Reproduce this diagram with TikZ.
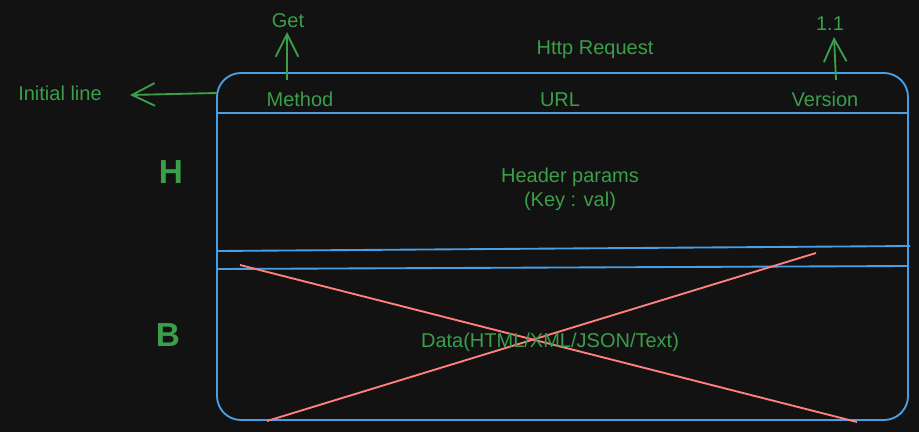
\documentclass[tikz,border=0pt]{standalone}
\usepackage{fontspec}
\setmainfont{Liberation Sans}
\usetikzlibrary{arrows.meta}
\definecolor{bg}{HTML}{121212}
\definecolor{txtg}{HTML}{3A9E4A}
\definecolor{boxb}{HTML}{4A9FE3}
\definecolor{crossr}{HTML}{FF8080}
\begin{document}
\begin{tikzpicture}[x=0.75pt,y=-0.75pt,
  lbl/.style={text=txtg,font=\fontsize{15}{18}\selectfont,inner sep=1pt},
  big/.style={text=txtg,font=\fontsize{25}{28}\selectfont\bfseries},
  arr/.style={draw=txtg,line width=1.4pt,-{Straight Barb[length=17pt,width=17pt,line width=1.4pt]}},
  bl/.style={draw=boxb,line width=1.4pt},
  rl/.style={draw=crossr,line width=1.4pt}]
\useasboundingbox[fill=bg] (0,0) rectangle (919,432);
% box
\draw[bl,rounded corners=18pt] (217,73) rectangle (908,420);
\coordinate (l1a) at (217,113); \coordinate (l1b) at (908,113);
\coordinate (l2a) at (217,251); \coordinate (l2b) at (910,246);
\coordinate (l3a) at (217,269); \coordinate (l3b) at (908,266);
\draw[bl] (l1a) -- (l1b);
\draw[bl] (l2a) -- (l2b);
\draw[bl] (l3a) -- (l3b);
% cross
\coordinate (c1a) at (240,265); \coordinate (c1b) at (857,422);
\coordinate (c2a) at (816,253); \coordinate (c2b) at (267,421);
\draw[rl] (c1a) -- (c1b);
\draw[rl] (c2a) -- (c2b);
% texts
\node[lbl] (http) at (595,50) {Http Request};
\node[lbl] (init) at (60,93) {Initial line};
\node[lbl] (meth) at (300,99) {Method};
\node[lbl] (url) at (560,100) {URL};
\node[lbl] (ver) at (825,99) {Version};
\node[lbl] (get) at (288,21) {Get};
\node[lbl] (v11) at (830,24) {1.1};
\node[lbl,align=center] (hdr) at (570,189) {Header params\\(Key : val)};
\node[big] (H) at (171,172) {H};
\node[big] (B) at (168,335) {B};
\node[lbl] (data) at (550,342) {Data(HTML/XML/JSON/Text)};
% arrows
\coordinate (ilstart) at (217,93);
\coordinate (ilend) at (130,95);
\draw[arr] (ilstart) -- (ilend);
\coordinate (gs) at (287,80); \coordinate (ge) at (287,32);
\draw[arr] (gs) -- (ge);
\coordinate (vs) at (836,80); \coordinate (ve) at (834,37);
\draw[arr] (vs) -- (ve);
\end{tikzpicture}
\end{document}
